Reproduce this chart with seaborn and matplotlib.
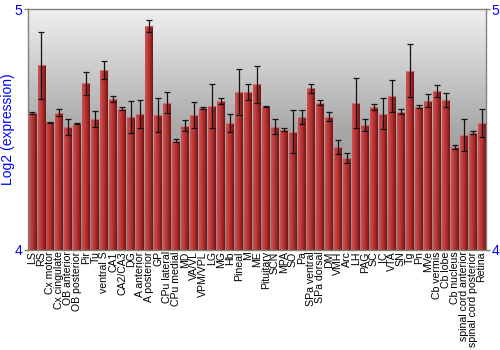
import numpy as np
import pandas as pd
import matplotlib
matplotlib.use("Agg")
import matplotlib.pyplot as plt
from matplotlib.colors import LinearSegmentedColormap
import seaborn as sns

regions = ["LS", "RS", "Cx motor", "Cx cingulate", "OB anterior", "OB posterior", "Pir", "Tu",
           "ventral S", "CA1", "CA2/CA3", "DG", "A anterior", "A posterior", "GP", "CPu lateral",
           "CPu medial", "MD", "VA/VL", "VPM/VPL", "LG", "MG", "Hb", "Pineal", "M", "ME",
           "Pituitary", "SCN", "MPA", "SO", "Pa", "SPa ventral", "SPa dorsal", "DM", "VMH", "Arc",
           "LH", "PAG", "SC", "IC", "VTA", "SN", "Tg", "Pn", "MVe", "Cb vermis", "Cb lobe",
           "Cb nucleus", "spinal cord anterior", "spinal cord posterior", "Retina"]
expression = [4.570, 4.768, 4.530, 4.570, 4.511, 4.525, 4.693, 4.545,
              4.749, 4.629, 4.588, 4.553, 4.565, 4.932, 4.560, 4.613,
              4.454, 4.517, 4.561, 4.589, 4.599, 4.619, 4.528, 4.656, 4.657, 4.688,
              4.596, 4.513, 4.500, 4.492, 4.553, 4.672, 4.613, 4.554, 4.429, 4.383,
              4.611, 4.518, 4.594, 4.567, 4.640, 4.575, 4.746, 4.596, 4.621, 4.660, 4.624,
              4.428, 4.478, 4.488, 4.528]
errors = [0.005, 0.140, 0.003, 0.014, 0.033, 0.003, 0.048, 0.033,
          0.038, 0.012, 0.006, 0.066, 0.060, 0.025, 0.070, 0.042,
          0.006, 0.024, 0.056, 0.004, 0.093, 0.011, 0.037, 0.095, 0.033, 0.077,
          0.002, 0.032, 0.006, 0.088, 0.029, 0.020, 0.012, 0.018, 0.029, 0.021,
          0.103, 0.025, 0.011, 0.065, 0.067, 0.010, 0.111, 0.005, 0.028, 0.025, 0.028,
          0.010, 0.066, 0.006, 0.058]
y_ticks = [4, 5]
y_label = "Log2 (expression)"

df = pd.DataFrame({"region": regions, "expr": expression, "err": errors})

sns.set_style("white")
plt.rcParams['font.family'] = ['Liberation Sans', 'DejaVu Sans']

fig = plt.figure(figsize=(5, 3.5), dpi=100)
ax = fig.add_axes([0.056, 0.286, 0.916, 0.687])

# background gradient (light at top, darker further down)
bg = LinearSegmentedColormap.from_list("bg", ["#f0f0f0", "#a8a8a8", "#8a8a8a"])
grad = np.linspace(0, 1, 256).reshape(-1, 1)
ax.imshow(grad, cmap=bg, aspect="auto", extent=[-0.5, len(regions) - 0.5, 4, 5],
          zorder=0, origin="upper")

sns.barplot(data=df, x="region", y="expr", color="#b03333", width=0.88,
            edgecolor="none", ax=ax, zorder=2, errorbar=None)

# gradient fill on bars
barcm = LinearSegmentedColormap.from_list("bar", ["#cc5252", "#c03c3c", "#a42828", "#701414"])
hgrad = np.linspace(0, 1, 64).reshape(1, -1)
for p in list(ax.patches):
    x0, w, h = p.get_x(), p.get_width(), p.get_height()
    im = ax.imshow(hgrad, cmap=barcm, aspect="auto",
                   extent=[x0, x0 + w, 4, h], zorder=3)
    im.set_clip_path(p)
    ax.plot([x0, x0 + w], [h, h], color="#d88080", lw=0.8, zorder=4, alpha=0.8)

ax.errorbar(np.arange(len(regions)), df["expr"], yerr=df["err"], fmt="none",
            ecolor="#111111", elinewidth=0.9, capsize=2.2, capthick=0.9, zorder=5)

ax.set_xlim(-0.5, len(regions) - 0.5)
ax.set_ylim(4, 5)
ax.set_yticks(y_ticks)
ax.set_yticklabels([str(t) for t in y_ticks])
ax.tick_params(axis="y", colors="#808080", labelcolor="blue", labelsize=10,
               left=True, right=True, labelright=True, length=3, width=1, pad=1)
ax.tick_params(axis="x", rotation=90, labelsize=7.6, length=0, pad=1, labelcolor="black")
ax.set_xlabel("")
ax.set_ylabel(y_label, color="blue", fontsize=10, labelpad=0)

for s in ["top", "right"]:
    ax.spines[s].set_visible(True)
for s in ax.spines.values():
    s.set_color("#808080")
    s.set_linewidth(1)
    s.set_zorder(6)

fig.savefig("out.png", dpi=100)
